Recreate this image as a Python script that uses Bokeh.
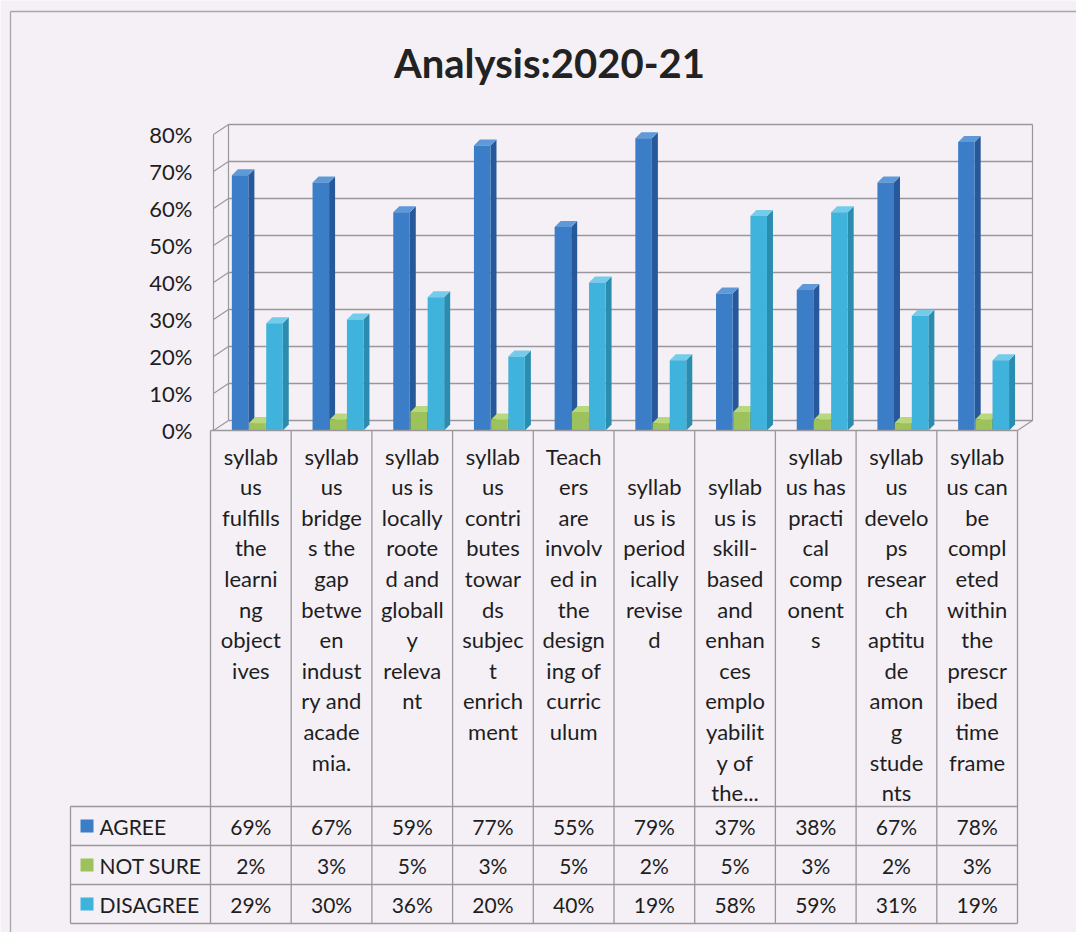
from bokeh.plotting import figure
from bokeh.models import Range1d, LinearAxis, FixedTicker, NumeralTickFormatter
from bokeh.core.properties import value
from bokeh.embed import file_html
from bokeh.resources import INLINE
import numpy as np

# ---------------- data ----------------
title_text = "Analysis:2020-21"
categories = [
    "syllab\nus\nfulfills\nthe\nlearni\nng\nobject\nives",
    "syllab\nus\nbridge\ns the\ngap\nbetwe\nen\nindust\nry and\nacade\nmia.",
    "syllab\nus is\nlocally\nroote\nd and\ngloball\ny\nreleva\nnt",
    "syllab\nus\ncontri\nbutes\ntowar\nds\nsubjec\nt\nenrich\nment",
    "Teach\ners\nare\ninvolv\ned in\nthe\ndesign\ning of\ncurric\nulum",
    " \nsyllab\nus is\nperiod\nically\nrevise\nd",
    " \nsyllab\nus is\nskill-\nbased\nand\nenhan\nces\nemplo\nyabilit\ny of\nthe...",
    "syllab\nus has\npracti\ncal\ncomp\nonent\ns",
    "syllab\nus\ndevelo\nps\nresear\nch\naptitu\nde\namon\ng\nstude\nnts",
    "syllab\nus can\nbe\ncompl\neted\nwithin\nthe\nprescr\nibed\ntime\nframe",
]
series_names = ["AGREE", "NOT SURE", "DISAGREE"]
agree = [0.69, 0.67, 0.59, 0.77, 0.55, 0.79, 0.37, 0.38, 0.67, 0.78]
not_sure = [0.02, 0.03, 0.05, 0.03, 0.05, 0.02, 0.05, 0.03, 0.02, 0.03]
disagree = [0.29, 0.30, 0.36, 0.20, 0.40, 0.19, 0.58, 0.59, 0.31, 0.19]
y_ticks = [0.0, 0.1, 0.2, 0.3, 0.4, 0.5, 0.6, 0.7, 0.8]

# ---------------- style ----------------
FONT = "Lato"
BG = "#f4f0f6"
LINE = "#9a979c"
TXT = "#1e1e1e"
front_cols = ["#3b7dc6", "#9dc25b", "#3fb3dc"]
side_cols = ["#27599a", "#789a3d", "#2a8db0"]
top_cols = ["#5f99d8", "#b9d87e", "#74cbea"]

# geometry (x: one unit per category, y: fraction)
W, H = 1076, 932
PX_X = 80.7
PX_Y = 370.0
x0_px, y0_px = 210.0, 430.0


def sx(px):
    return (px - x0_px) / PX_X


def sy(py):
    return (y0_px - py) / PX_Y


x_start, x_end = sx(0), sx(W)
y_start, y_end = sy(H), sy(0)

wall_left = 3 / PX_X
wall_dx, wall_dy = 15 / PX_X, 10 / PX_Y
bar_dx, bar_dy = 6 / PX_X, 6 / PX_Y
bar_w = 0.205
bar_step = 0.213
group_center = 0.58

p = figure(width=W, height=H, x_range=Range1d(x_start, x_end), y_range=Range1d(y_start, y_end),
           x_axis_type=None, y_axis_type=None, output_backend="svg", toolbar_location=None,
           min_border=0, background_fill_color=BG, border_fill_color=BG,
           outline_line_color=None)
p.grid.visible = False

# outer chart border (left + top, as on the scan)
p.segment(x0=[sx(10), sx(10)], y0=[sy(11), sy(11)], x1=[sx(10), x_end], y1=[y_start, sy(11)],
          line_color="#a9a6ab", line_width=1.3)

# ---------- walls / gridlines ----------
n = len(categories)
back_l = wall_left + wall_dx
back_r = n + wall_dx
yt = np.array(y_ticks)
p.segment(x0=[back_l] * len(yt), y0=yt + wall_dy, x1=[back_r] * len(yt), y1=yt + wall_dy,
          line_color=LINE, line_width=1.5)
p.segment(x0=[wall_left] * len(yt), y0=yt, x1=[back_l] * len(yt), y1=yt + wall_dy,
          line_color=LINE, line_width=1.2)
p.segment(x0=[back_l, back_r, n], y0=[wall_dy, wall_dy, 0],
          x1=[back_l, back_r, back_r], y1=[yt[-1] + wall_dy, yt[-1] + wall_dy, wall_dy],
          line_color=LINE, line_width=1.2)

# ---------- y axis ----------
yax = LinearAxis(fixed_location=wall_left, bounds=(0, y_ticks[-1]),
                 ticker=FixedTicker(ticks=y_ticks), formatter=NumeralTickFormatter(format="0%"),
                 major_tick_out=0, major_tick_in=0, minor_tick_out=0, minor_tick_in=0,
                 axis_line_color=LINE, axis_line_width=1.2,
                 major_label_text_font=FONT, major_label_text_font_size="22px",
                 major_label_text_color=TXT, major_label_standoff=21)
p.add_layout(yax, "left")

# ---------- bars ----------
for k, vals in enumerate([agree, not_sure, disagree]):
    v = np.array(vals)
    cx = np.arange(n) + group_center + (k - 1) * bar_step
    xl, xr = cx - bar_w / 2, cx + bar_w / 2
    side_xs = [[a, a + bar_dx, a + bar_dx, a] for a in xr]
    side_ys = [[0, bar_dy, h + bar_dy, h] for h in v]
    top_xs = [[a, a + bar_dx, b + bar_dx, b] for a, b in zip(xl, xr)]
    top_ys = [[h, h + bar_dy, h + bar_dy, h] for h in v]
    p.patches(side_xs, side_ys, fill_color=side_cols[k], line_color=None)
    p.patches(top_xs, top_ys, fill_color=top_cols[k], line_color=None)
    p.vbar(x=cx, top=v, bottom=0, width=bar_w, fill_color=front_cols[k], line_color=None)

# ---------- data table ----------
row_top = sy(806)
row_h = 39 / PX_Y
leg_left = sx(70)
table_bottom = row_top - 3 * row_h

hy = [0] + [row_top - r * row_h for r in range(4)]
hx0 = [0] + [leg_left] * 4
p.segment(x0=hx0, y0=hy, x1=[n] * len(hy), y1=hy, line_color=LINE, line_width=1.3)
vx = list(range(n + 1))
p.segment(x0=vx, y0=[0] * len(vx), x1=vx, y1=[table_bottom] * len(vx), line_color=LINE, line_width=1.3)
p.segment(x0=[leg_left], y0=[row_top], x1=[leg_left], y1=[table_bottom], line_color=LINE, line_width=1.3)

# category labels
p.text(x=np.arange(n) + 0.5, y=[sy(442)] * n,
       text=categories, text_align="center", text_baseline="top",
       text_font=value(FONT), text_font_size="22px", text_color=TXT, text_line_height=1.134)

# values
for r, vals in enumerate([agree, not_sure, disagree]):
    yc = row_top - (r + 0.5) * row_h
    p.text(x=np.arange(n) + 0.5, y=[yc] * n, text=[f"{round(v * 100)}%" for v in vals],
           text_align="center", text_baseline="middle",
           text_font=value(FONT), text_font_size="21px", text_color=TXT)

# legend keys
ys = [row_top - (r + 0.5) * row_h for r in range(3)]
p.scatter(x=[sx(86.5)] * 3, y=ys, marker="square", size=13,
          fill_color=front_cols, line_color=None)
p.text(x=[sx(99)] * 3, y=ys, text=series_names, text_align="left",
       text_baseline="middle", text_font=value(FONT), text_font_size="21px", text_color=TXT)

# title
p.text(x=[sx(549)], y=[sy(62)], text=[title_text],
       text_align="center", text_baseline="middle", text_font=value(FONT),
       text_font_size="40px", text_font_style="bold", text_color="#222222")

open("out.html", "w").write(file_html(p, INLINE))
